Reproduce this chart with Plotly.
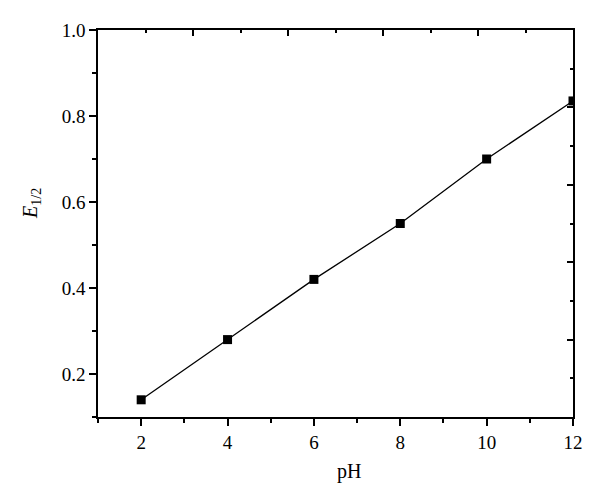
import plotly.graph_objects as go

ph = [2, 4, 6, 8, 10, 12]
e_half = [0.14, 0.28, 0.42, 0.55, 0.70, 0.835]

x_ticks = [2, 4, 6, 8, 10, 12]
y_ticks = [0.2, 0.4, 0.6, 0.8, 1.0]
y_tick_text = ["0.2", "0.4", "0.6", "0.8", "1.0"]

FONT = "Liberation Serif"

fig = go.Figure()
fig.add_trace(go.Scatter(
    x=ph, y=e_half, mode="lines+markers",
    line=dict(color="black", width=1.3),
    marker=dict(symbol="square", size=9, color="black"),
    showlegend=False, cliponaxis=True,
))
# empty trace so the mirrored top/right axes are drawn
fig.add_trace(go.Scatter(x=[], y=[], xaxis="x2", yaxis="y2",
                         showlegend=False, hoverinfo="skip"))

axis_common = dict(showline=True, linecolor="black", linewidth=1.6,
                   showgrid=False, zeroline=False)

fig.update_layout(
    width=600, height=499,
    margin=dict(l=98, r=27, t=30, b=82),
    paper_bgcolor="white", plot_bgcolor="white",
    font=dict(family=FONT, size=19, color="black"),
    xaxis=dict(range=[1, 12], tickvals=x_ticks, ticks="outside", ticklen=7,
               tickwidth=1.5, tickcolor="black",
               tickfont=dict(family=FONT, size=19, color="black"),
               minor=dict(dtick=1, tick0=1, ticks="outside", ticklen=4,
                          tickwidth=1.5, tickcolor="black"),
               **axis_common),
    yaxis=dict(range=[0.1, 1.0], tickvals=y_ticks, ticktext=y_tick_text,
               ticks="outside", ticklen=7, tickwidth=1.5, tickcolor="black",
               tickfont=dict(family=FONT, size=19, color="black"),
               minor=dict(dtick=0.1, tick0=0.1, ticks="outside", ticklen=4,
                          tickwidth=1.5, tickcolor="black"),
               **axis_common),
    xaxis2=dict(overlaying="x", side="top", range=[0, 10], dtick=2, tick0=0,
                ticks="inside", ticklen=6, tickwidth=1.5, tickcolor="black",
                showticklabels=False,
                minor=dict(dtick=1, ticks="inside", ticklen=3,
                           tickwidth=1.5, tickcolor="black"),
                **axis_common),
    yaxis2=dict(overlaying="y", side="right", range=[0, 10], dtick=2, tick0=0,
                ticks="inside", ticklen=6, tickwidth=1.5, tickcolor="black",
                showticklabels=False,
                minor=dict(dtick=1, ticks="inside", ticklen=3,
                           tickwidth=1.5, tickcolor="black"),
                **axis_common),
)

fig.add_annotation(text="<i>E</i><sub>1/2</sub>", xref="paper", yref="paper",
                   x=-0.139, y=0.553, xanchor="center", yanchor="middle",
                   textangle=-90, showarrow=False,
                   font=dict(family=FONT, size=20, color="black"))
fig.add_annotation(text="pH", xref="paper", yref="paper",
                   x=0.528, y=-0.14, xanchor="center", yanchor="middle",
                   showarrow=False, font=dict(family=FONT, size=20, color="black"))

fig.write_html("out.html", config={"displayModeBar": False},
               post_script="document.body.style.margin='0';document.body.style.padding='0';")
